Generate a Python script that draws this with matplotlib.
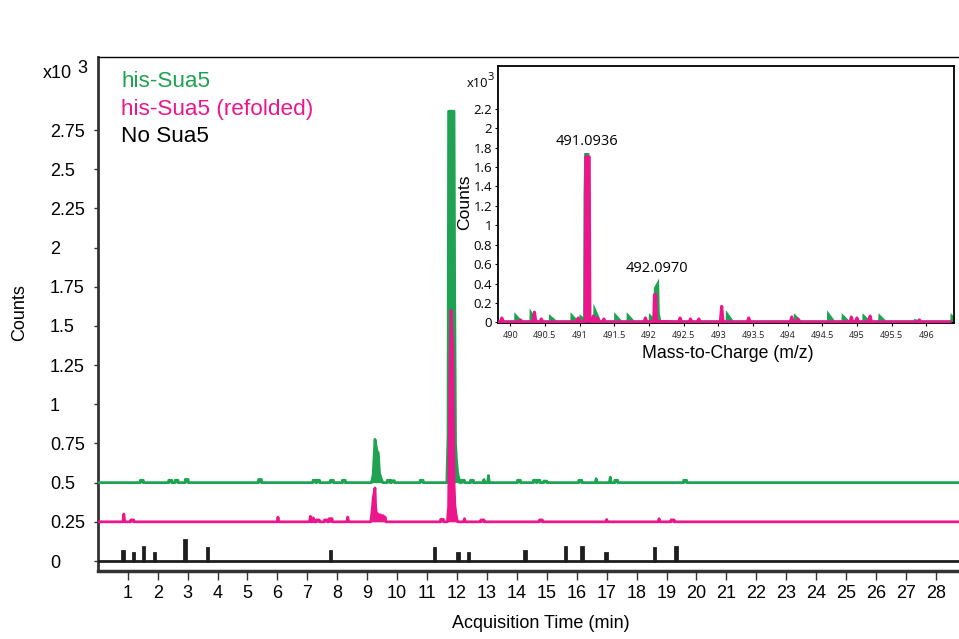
import matplotlib
matplotlib.use("Agg")
import matplotlib.pyplot as plt
import numpy as np

plt.rcParams['font.family'] = ['Liberation Sans', 'DejaVu Sans']

GREEN = '#1fa251'
PINK = '#ec168c'
BLACK = '#1e1e1e'

# ---------------- main chromatogram data (x10^3 counts, min) ----------------
series_names = ["his-Sua5", "his-Sua5 (refolded)", "No Sua5"]
offsets = [0.5, 0.25, 0.0]

# green trace: small flat bumps, small spikes, and peaks
green_bump_t = [1.47, 2.42, 2.63, 2.97, 5.42, 7.24, 7.36, 7.82, 8.22, 9.72, 9.86, 10.82,
                12.2, 12.5, 14.07, 14.6, 14.72, 14.95, 16.12, 17.32, 19.62]
green_bump_h = [0.015, 0.015, 0.015, 0.02, 0.02, 0.015, 0.015, 0.015, 0.015, 0.015, 0.012, 0.015,
                0.015, 0.015, 0.015, 0.015, 0.015, 0.01, 0.015, 0.015, 0.015]
green_spike_t = [12.9, 13.05, 16.65, 17.12]
green_spike_h = [0.02, 0.045, 0.025, 0.035]
green_peak1_t = [9.14, 9.20, 9.26, 9.29, 9.33, 9.37, 9.41, 9.46, 9.52]
green_peak1_y = [0.0, 0.05, 0.276, 0.24, 0.20, 0.19, 0.06, 0.03, 0.0]
green_peak2_t = [11.66, 11.70, 11.72, 11.90, 11.92, 11.95, 11.98, 12.02, 12.06, 12.10]
green_peak2_y = [0.0, 0.3, 2.37, 2.37, 1.3, 0.25, 0.15, 0.06, 0.03, 0.0]

# pink trace
pink_bump_t = [1.15, 7.35, 7.62, 7.78, 11.5, 12.85, 14.8, 19.2]
pink_bump_h = [0.012, 0.012, 0.012, 0.02, 0.015, 0.012, 0.012, 0.012]
pink_spike_t = [0.87, 6.02, 7.1, 7.2, 8.35, 12.25, 17.0, 18.75]
pink_spike_h = [0.05, 0.03, 0.035, 0.025, 0.03, 0.02, 0.015, 0.02]
pink_peak1_t = [9.12, 9.17, 9.20, 9.26, 9.28, 9.32, 9.36, 9.40, 9.44, 9.48, 9.52, 9.56, 9.60, 9.63]
pink_peak1_y = [0.0, 0.08, 0.15, 0.216, 0.10, 0.03, 0.05, 0.02, 0.045, 0.02, 0.04, 0.03, 0.03, 0.0]
pink_peak2_t = [11.68, 11.72, 11.76, 11.80, 11.86, 11.90, 11.93, 11.98, 12.02]
pink_peak2_y = [0.0, 0.1, 0.9, 1.35, 1.1, 0.25, 0.1, 0.03, 0.0]

# black trace: narrow bars
black_t = [0.85, 1.19, 1.52, 1.90, 2.92, 3.66, 7.78, 11.24, 12.04, 12.38, 14.27,
           15.63, 16.18, 16.98, 18.59, 19.31]
black_h = [0.065, 0.05, 0.09, 0.05, 0.135, 0.08, 0.065, 0.08, 0.05, 0.05, 0.065,
           0.09, 0.09, 0.05, 0.08, 0.09]

x_ticks = list(range(1, 29))
y_ticks = [0, 0.25, 0.5, 0.75, 1, 1.25, 1.5, 1.75, 2, 2.25, 2.5, 2.75]
y_tick_labels = ["0", "0.25", "0.5", "0.75", "1", "1.25", "1.5", "1.75", "2", "2.25", "2.5", "2.75"]

# ---------------- inset mass spectrum data ----------------
ms_green_base = 0.025
ms_green_spike_mz = [490.05, 490.27, 490.55, 490.86, 490.99, 491.19, 491.49, 491.67, 491.99,
                     493.10, 494.08, 494.56, 494.77, 495.07, 495.30, 495.81, 496.34]
ms_green_spike_h = [0.11, 0.15, 0.09, 0.11, 0.09, 0.20, 0.11, 0.11, 0.10,
                    0.13, 0.10, 0.13, 0.10, 0.10, 0.10, 0.04, 0.10]
ms_green_peak1_mz = [491.045, 491.05, 491.06, 491.135, 491.145, 491.16]
ms_green_peak1_y = [0.025, 1.31, 1.75, 1.75, 0.3, 0.025]
ms_green_peak2_mz = [492.055, 492.065, 492.14, 492.15, 492.17]
ms_green_peak2_y = [0.025, 0.36, 0.457, 0.1, 0.025]

ms_pink_spike_mz = [489.88, 490.15, 490.35, 490.45, 490.98, 491.2, 491.26, 491.35, 491.95,
                    492.45, 492.6, 492.72, 493.05, 493.44, 494.06, 494.15, 494.92, 495.0,
                    495.19, 495.9]
ms_pink_spike_h = [0.04, 0.02, 0.10, 0.03, 0.04, 0.06, 0.04, 0.03, 0.04,
                   0.04, 0.03, 0.03, 0.16, 0.04, 0.05, 0.03, 0.05, 0.04,
                   0.06, 0.02]
ms_pink_peak1_mz = [491.08, 491.09, 491.14, 491.15]
ms_pink_peak1_y = [0.005, 1.70, 1.70, 0.03]
ms_pink_peak2_mz = [492.07, 492.08, 492.10, 492.11]
ms_pink_peak2_y = [0.005, 0.28, 0.28, 0.005]

ms_labels = ["491.0936", "492.0970"]
ms_label_mz = [491.1, 492.11]
ms_label_y = [1.86, 0.55]
ms_x_ticks = [490, 490.5, 491, 491.5, 492, 492.5, 493, 493.5, 494, 494.5, 495, 495.5, 496]
ms_x_tick_labels = ["490", "490.5", "491", "491.5", "492", "492.5", "493", "493.5", "494",
                    "494.5", "495", "495.5", "496"]
ms_y_ticks = [0, 0.2, 0.4, 0.6, 0.8, 1.0, 1.2, 1.4, 1.6, 1.8, 2.0, 2.2]
ms_y_tick_labels = ["0", "0.2", "0.4", "0.6", "0.8", "1", "1.2", "1.4", "1.6", "1.8", "2", "2.2"]


def build_trace(x0, x1, base, bumps=(), spikes=(), peaks=(), bw=0.05, sw=0.03, rise=False):
    feats = []
    for t, h in zip(*bumps) if bumps else []:
        feats.append(([t - bw, t - bw, t + bw, t + bw], [0, h, h, 0]))
    for t, h in zip(*spikes) if spikes else []:
        if rise:
            feats.append(([t, t + 0.004, t + sw], [0, h, 0]))
        else:
            feats.append(([t - sw, t, t + sw], [0, h, 0]))
    for pt, py in peaks:
        feats.append((list(pt), list(py)))
    feats.sort(key=lambda f: f[0][0])
    xs, ys = [x0], [0.0]
    for fx_, fy_ in feats:
        xs.extend(fx_)
        ys.extend(fy_)
    xs.append(x1)
    ys.append(0.0)
    return np.array(xs), np.array(ys) + base


fig = plt.figure(figsize=(9.59, 6.39), dpi=100)
W, H = 959.0, 639.0


def fx(px):
    return px / W


def fy(py):
    return 1 - py / H


# ---------------- main axes ----------------
ax = fig.add_axes([fx(97.8), fy(571), fx(959) - fx(97.8), fy(57) - fy(571)])
XMAX = 28.77
ax.set_xlim(0, XMAX)
ax.set_ylim(-0.0638, 3.216)

bx, by = build_trace(0, XMAX, offsets[2], bumps=(black_t, black_h), bw=0.025)
ax.fill_between(bx, offsets[2], by, color=BLACK, lw=0, zorder=2)
ax.plot(bx, by, color=BLACK, lw=2.0, zorder=3, solid_joinstyle='miter')

gx, gy = build_trace(0, XMAX, offsets[0], bumps=(green_bump_t, green_bump_h),
                     spikes=(green_spike_t, green_spike_h),
                     peaks=[(green_peak1_t, green_peak1_y), (green_peak2_t, green_peak2_y)])
ax.fill_between(gx, offsets[0], gy, color=GREEN, lw=0, zorder=4)
ax.plot(gx, gy, color=GREEN, lw=2.0, zorder=5)

px_, py_ = build_trace(0, XMAX, offsets[1], bumps=(pink_bump_t, pink_bump_h),
                       spikes=(pink_spike_t, pink_spike_h),
                       peaks=[(pink_peak1_t, pink_peak1_y), (pink_peak2_t, pink_peak2_y)])
ax.fill_between(px_, offsets[1], py_, color=PINK, lw=0, zorder=6)
ax.plot(px_, py_, color=PINK, lw=2.0, zorder=7)

ax.spines['right'].set_visible(False)
ax.spines['top'].set_linewidth(1.0)
ax.spines['left'].set_linewidth(2.0)
ax.spines['left'].set_color('#333333')
ax.spines['bottom'].set_linewidth(2.5)
ax.spines['bottom'].set_color('#333333')

ax.set_xticks(x_ticks)
ax.set_xticklabels([str(v) for v in x_ticks])
ax.set_yticks(y_ticks)
ax.set_yticklabels(y_tick_labels)
ax.tick_params(axis='x', direction='out', length=6.5, width=1.0, color='#333333',
               labelsize=13, pad=3.5)
ax.tick_params(axis='y', direction='out', length=3.2, width=1.0, color='#333333',
               labelsize=13, pad=31.2)
for lab in ax.get_yticklabels():
    lab.set_horizontalalignment('left')

fig.text(fx(43), fy(78), "x10", fontsize=13, va='baseline', ha='left')
fig.text(fx(77), fy(73), "3", fontsize=13, va='baseline', ha='left')
fig.text(fx(20), fy(313), "Counts", fontsize=13, rotation=90, va='center', ha='center')
fig.text(fx(541), fy(624), "Acquisition Time (min)", fontsize=13, va='center', ha='center')

legend_colors = [GREEN, PINK, 'black']
legend_base = [87, 114.5, 142.5]
for name, c, yb in zip(series_names, legend_colors, legend_base):
    fig.text(fx(121), fy(yb), name, color=c, fontsize=16.2, va='baseline', ha='left')

# ---------------- inset ----------------
ia = fig.add_axes([fx(497.7), fy(323), fx(954) - fx(497.7), fy(66) - fy(323)], zorder=10)
MS_X0, MS_X1 = 489.82, 496.40
ia.set_xlim(MS_X0, MS_X1)
ia.set_ylim(-0.007, 2.642)

mgx, mgy = build_trace(MS_X0 + 0.02, MS_X1 - 0.01, 0.0,
                       spikes=(ms_green_spike_mz, ms_green_spike_h),
                       peaks=[(ms_green_peak1_mz, ms_green_peak1_y),
                              (ms_green_peak2_mz, ms_green_peak2_y)],
                       sw=0.11, rise=True)
mgy = np.where(mgy < ms_green_base, ms_green_base, mgy)
mgy[0] = ms_green_base
mgy[-1] = ms_green_base
ia.fill_between(mgx, 0, mgy, color=GREEN, lw=0, zorder=2)

mpx, mpy = build_trace(MS_X0 + 0.02, MS_X1 - 0.06, 0.005,
                       spikes=(ms_pink_spike_mz, ms_pink_spike_h),
                       peaks=[(ms_pink_peak1_mz, ms_pink_peak1_y),
                              (ms_pink_peak2_mz, ms_pink_peak2_y)],
                       sw=0.02)
ia.fill_between(mpx, 0, mpy, color=PINK, lw=0, zorder=3)
ia.plot(mpx, mpy, color=PINK, lw=2.2, zorder=4)

for s in ia.spines.values():
    s.set_linewidth(1.3)
    s.set_color('black')

ia.set_xticks(ms_x_ticks)
ia.set_xticklabels(ms_x_tick_labels)
ia.set_yticks(ms_y_ticks)
ia.set_yticklabels(ms_y_tick_labels)
ia.tick_params(axis='x', direction='out', length=2.5, width=0.8, labelsize=6.6, pad=3,
               labelcolor='#222222')
ia.tick_params(axis='y', direction='out', length=2.5, width=0.8, labelsize=9.5, pad=1.5)
for lab in ia.get_xticklabels() + ia.get_yticklabels():
    lab.set_fontfamily(['Open Sans', 'DejaVu Sans'])

for txt, mz, yv in zip(ms_labels, ms_label_mz, ms_label_y):
    ia.text(mz, yv, txt, fontsize=10.5, ha='center', va='center',
            family=['Open Sans', 'DejaVu Sans'], zorder=5)

fig.text(fx(466.5), fy(86.7), "x10", fontsize=9.3, va='baseline', ha='left',
         family=['Open Sans', 'DejaVu Sans'])
fig.text(fx(487.5), fy(79.5), "3", fontsize=8, va='baseline', ha='left',
         family=['Open Sans', 'DejaVu Sans'])
fig.text(fx(464.5), fy(202), "Counts", fontsize=12.6, rotation=90, va='center', ha='center',
         zorder=11)
fig.text(fx(728), fy(353), "Mass-to-Charge (m/z)", fontsize=12.7, va='center', ha='center')

fig.savefig("out.png", dpi=100)
